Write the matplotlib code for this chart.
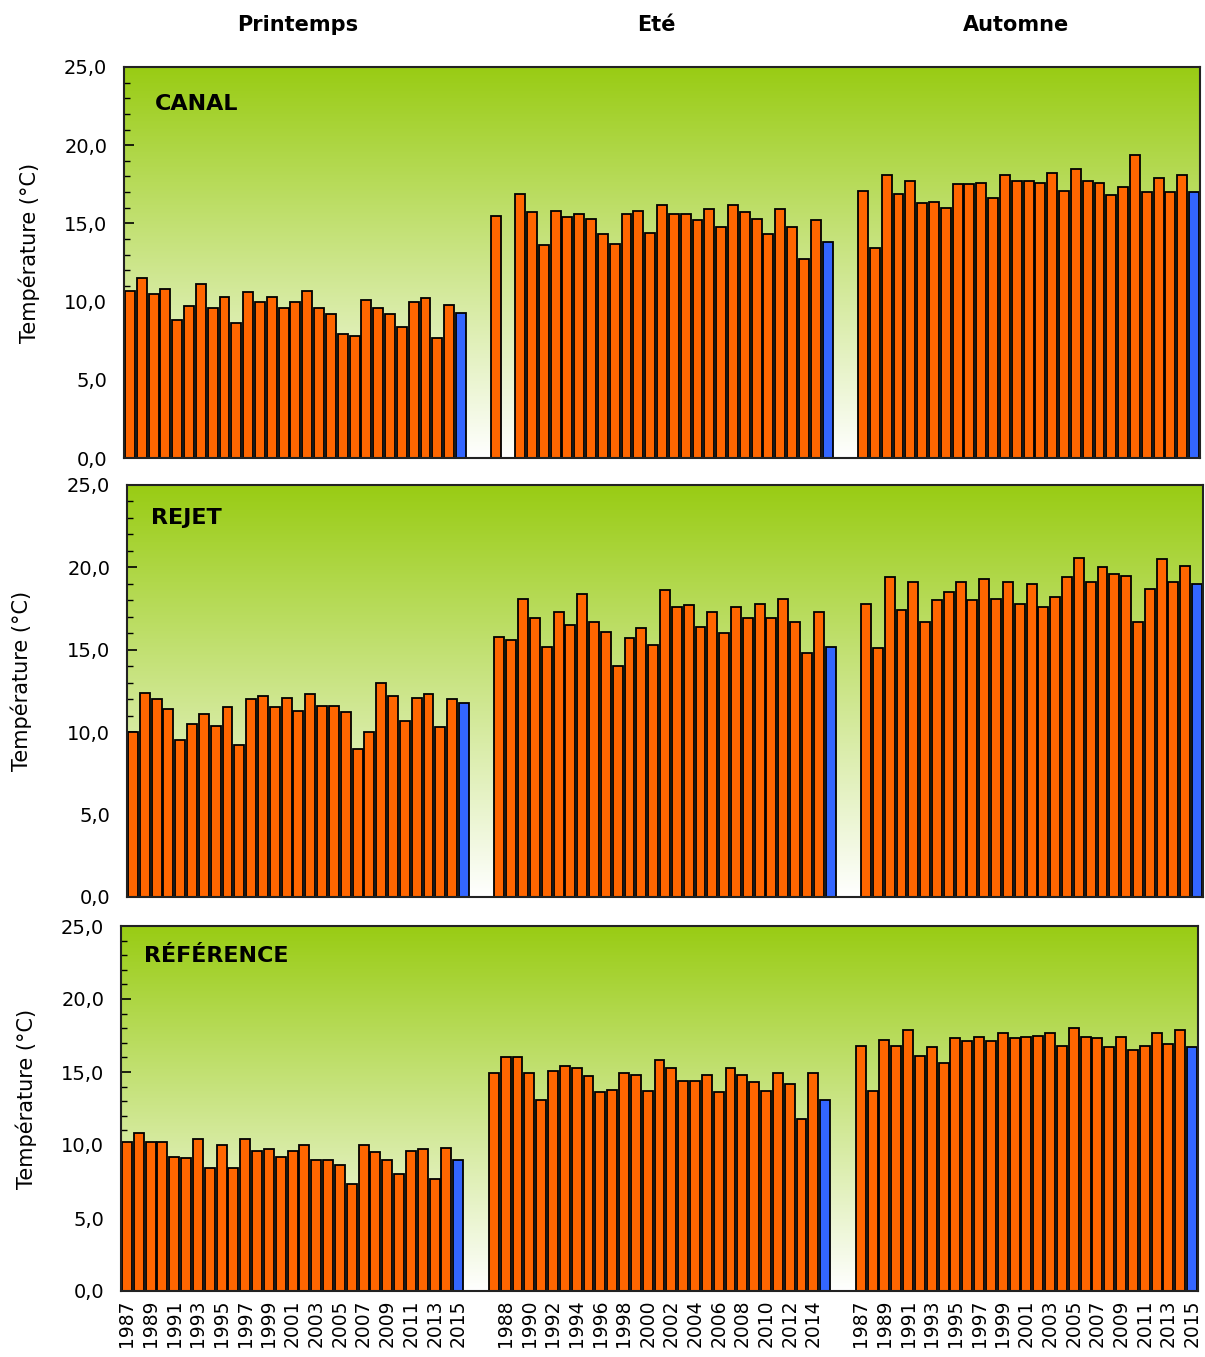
import matplotlib
matplotlib.use("Agg")
import matplotlib.pyplot as plt
import numpy as np
from matplotlib.ticker import FuncFormatter, MultipleLocator

years = list(range(1987, 2016))
seasons = ['Printemps', 'Eté', 'Automne']
sites = ['CANAL', 'REJET', 'RÉFÉRENCE']

canal_printemps = [10.7, 11.5, 10.5, 10.8, 8.8, 9.7, 11.1, 9.6, 10.3, 8.6, 10.6, 10.0, 10.3, 9.6, 10.0,
                   10.7, 9.6, 9.2, 7.9, 7.8, 10.1, 9.6, 9.2, 8.4, 10.0, 10.2, 7.7, 9.8, 9.3]
canal_ete = [15.5, np.nan, 16.9, 15.7, 13.6, 15.8, 15.4, 15.6, 15.3, 14.3, 13.7, 15.6, 15.8, 14.4, 16.2,
             15.6, 15.6, 15.2, 15.9, 14.8, 16.2, 15.7, 15.3, 14.3, 15.9, 14.8, 12.7, 15.2, 13.8]
canal_automne = [17.1, 13.4, 18.1, 16.9, 17.7, 16.3, 16.4, 16.0, 17.5, 17.5, 17.6, 16.6, 18.1, 17.7, 17.7,
                 17.6, 18.2, 17.1, 18.5, 17.7, 17.6, 16.8, 17.3, 19.4, 17.0, 17.9, 17.0, 18.1, 17.0]

rejet_printemps = [10.0, 12.4, 12.0, 11.4, 9.5, 10.5, 11.1, 10.4, 11.5, 9.2, 12.0, 12.2, 11.5, 12.1, 11.3,
                   12.3, 11.6, 11.6, 11.2, 9.0, 10.0, 13.0, 12.2, 10.7, 12.1, 12.3, 10.3, 12.0, 11.8]
rejet_ete = [15.8, 15.6, 18.1, 16.9, 15.2, 17.3, 16.5, 18.4, 16.7, 16.1, 14.0, 15.7, 16.3, 15.3, 18.6,
             17.6, 17.7, 16.4, 17.3, 16.0, 17.6, 16.9, 17.8, 16.9, 18.1, 16.7, 14.8, 17.3, 15.2]
rejet_automne = [17.8, 15.1, 19.4, 17.4, 19.1, 16.7, 18.0, 18.5, 19.1, 18.0, 19.3, 18.1, 19.1, 17.8, 19.0,
                 17.6, 18.2, 19.4, 20.6, 19.1, 20.0, 19.6, 19.5, 16.7, 18.7, 20.5, 19.1, 20.1, 19.0]

ref_printemps = [10.2, 10.8, 10.2, 10.2, 9.2, 9.1, 10.4, 8.4, 10.0, 8.4, 10.4, 9.6, 9.7, 9.2, 9.6,
                 10.0, 9.0, 9.0, 8.6, 7.3, 10.0, 9.5, 9.0, 8.0, 9.6, 9.7, 7.7, 9.8, 9.0]
ref_ete = [14.9, 16.0, 16.0, 14.9, 13.1, 15.1, 15.4, 15.3, 14.7, 13.6, 13.8, 14.9, 14.8, 13.7, 15.8,
           15.3, 14.4, 14.4, 14.8, 13.6, 15.3, 14.8, 14.3, 13.7, 14.9, 14.2, 11.8, 14.9, 13.1]
ref_automne = [16.8, 13.7, 17.2, 16.8, 17.9, 16.1, 16.7, 15.6, 17.3, 17.1, 17.4, 17.1, 17.7, 17.3, 17.4,
               17.5, 17.7, 16.8, 18.0, 17.4, 17.3, 16.7, 17.4, 16.5, 16.8, 17.7, 16.9, 17.9, 16.7]

data = [
    [canal_printemps, canal_ete, canal_automne],
    [rejet_printemps, rejet_ete, rejet_automne],
    [ref_printemps, ref_ete, ref_automne],
]

W, H = 1205, 1357
fig = plt.figure(figsize=(W / 100, H / 100), dpi=100)

# plot areas in pixels: left, top, right, bottom
boxes = [(124, 67, 1200, 458), (127, 485, 1203, 897), (121, 926, 1198, 1291)]
title_pos = [(155, 104), (151, 518), (144, 956)]
ylabel_x = [29, 21, 26]

n = len(years)
gap = 2
offsets = [0, n + gap, 2 * (n + gap)]
nslots = 3 * n + 2 * gap

# gradient: white at bottom, yellow-green at top
top = np.array([153, 204, 20]) / 255
frac = np.linspace(0, 1, 256)[:, None]
grad = (1 - frac) * 1.0 + frac * top
grad = grad[:, None, :]

orange = '#FF6600'
blue = '#3366FF'

fmt = FuncFormatter(lambda v, p: f"{v:.1f}".replace('.', ','))

for k, (l, t, r, b) in enumerate(boxes):
    ax = fig.add_axes([l / W, 1 - b / H, (r - l) / W, (b - t) / H])
    ax.imshow(grad, extent=[-0.5, nslots - 0.5, 0, 25], origin='lower', aspect='auto', zorder=0)
    for s in range(3):
        vals = data[k][s]
        x = np.arange(n) + offsets[s]
        cols = [orange] * (n - 1) + [blue]
        ax.bar(x, vals, width=0.84, color=cols, edgecolor='black', linewidth=1.3, zorder=2)
    ax.set_xlim(-0.5, nslots - 0.5)
    ax.set_ylim(0, 25)
    ax.yaxis.set_major_locator(MultipleLocator(5))
    ax.yaxis.set_minor_locator(MultipleLocator(1))
    ax.yaxis.set_major_formatter(fmt)
    ax.tick_params(axis='y', which='major', direction='in', length=7, width=1.2, labelsize=14, pad=12)
    ax.tick_params(axis='y', which='minor', direction='in', length=4, width=1.0)
    for sp in ax.spines.values():
        sp.set_linewidth(1.5)
        sp.set_color('#222222')
    ticks, labels = [], []
    for s in range(3):
        for i in range(n):
            pos = offsets[s] + i
            if pos % 2 == 0:
                ticks.append(pos)
                labels.append(str(years[i]))
    ax.set_xticks(ticks)
    if k == 2:
        ax.set_xticklabels(labels, rotation=90, fontsize=13.5, va='top')
        ax.tick_params(axis='x', length=0, pad=6)
    else:
        ax.set_xticklabels([])
        ax.tick_params(axis='x', length=0)
    tx, ty = title_pos[k]
    fig.text(tx / W, 1 - ty / H, sites[k], fontsize=16, fontweight='bold', va='center', ha='left')
    fig.text(ylabel_x[k] / W, 1 - ((t + b) / 2 - 10) / H, 'Température (°C)', rotation=90,
             fontsize=15, va='center', ha='center')

for name, cx in zip(seasons, [298, 656, 1016]):
    fig.text(cx / W, 1 - 25 / H, name, fontsize=15, fontweight='bold', ha='center', va='center')

fig.savefig('out.png', dpi=100)
